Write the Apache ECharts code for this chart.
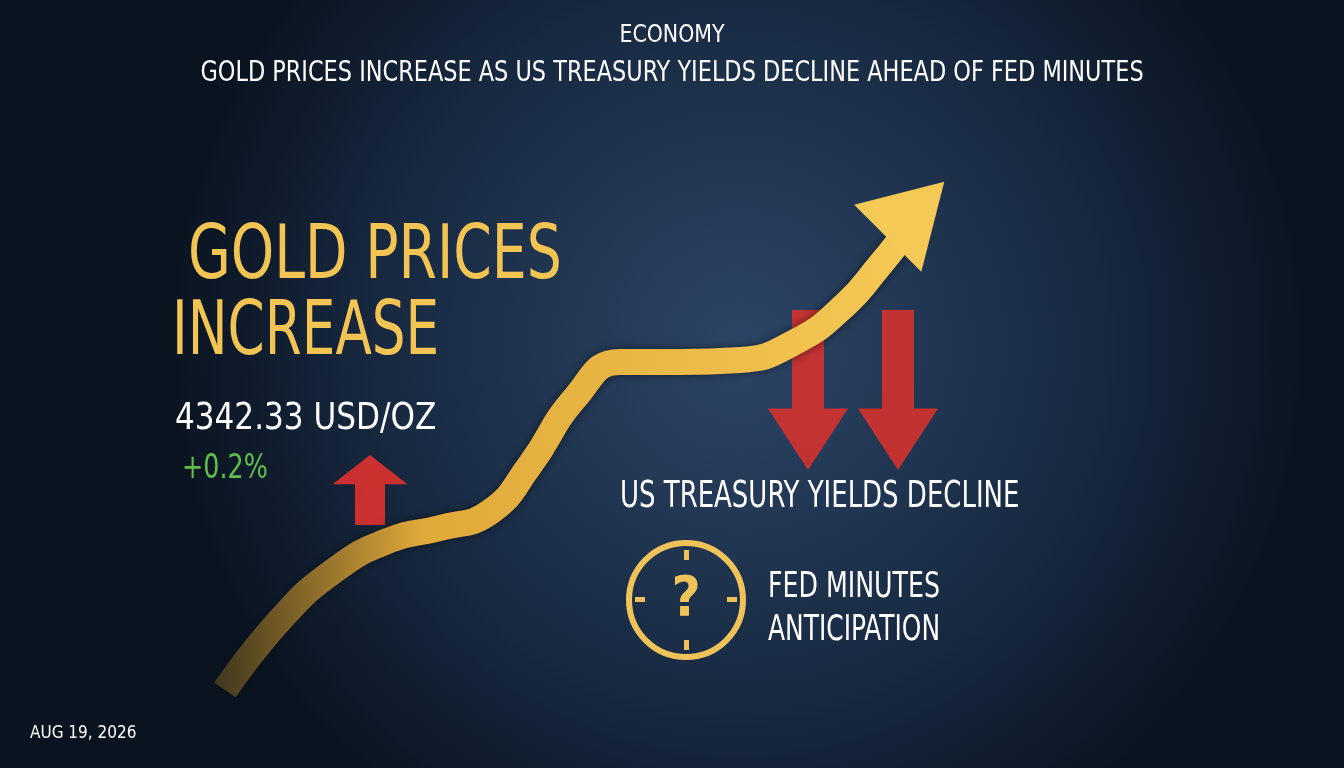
<!DOCTYPE html>
<html><head><meta charset="utf-8">
<script src="https://cdn.jsdelivr.net/npm/echarts@6/dist/echarts.min.js"></script>
<style>html,body{margin:0;padding:0;background:#0d1a2b}#c{width:1344px;height:768px}</style>
</head><body><div id="c"></div>
<script>
const goldPathX = [225, 280, 335, 390, 440, 490, 530, 575, 620, 680, 740, 795, 845, 880, 900];
const goldPathY = [690, 620, 570, 540, 528, 512, 465, 398, 362, 362, 360, 342, 305, 265, 240];
const headPoint = [[916, 210]];
const upArrows = [[370, 490]];
const downArrows = [[808, 390], [898, 390]];
const clockPos = [[686, 600]];
const F = '"DejaVu Sans Condensed","Roboto",sans-serif';
const chart = echarts.init(document.getElementById('c'));
const arrowUp = 'path://M0,0 L10,-10 L20,0 L14,0 L14,14 L6,14 L6,0 Z';
const arrowDown = 'path://M6,0 L14,0 L14,16 L20,16 L10,26 L0,16 L6,16 Z';
function T(text, x, y, size, fill, sx, center){
  return {type:'text', x:x, y:y, scaleX:sx, originX:0, originY:0,
    style:{text:text, fill:fill, font:size+'px '+F, textAlign:center?'center':'left', textVerticalAlign:'top'}};
}
chart.setOption({
  backgroundColor: {type:'radial', x:0.55, y:0.45, r:0.75, colorStops:[{offset:0,color:'#2c4566'},{offset:0.6,color:'#182a42'},{offset:1,color:'#0a1320'}]},
  grid:{left:0,right:0,top:0,bottom:0},
  xAxis:{type:'value',min:0,max:1344,show:false},
  yAxis:{type:'value',min:0,max:768,inverse:true,show:false},
  series:[
    {type:'line',smooth:true,symbol:'none',data:goldPathX.map((x,i)=>[x,goldPathY[i]]),
     lineStyle:{width:26,color:{type:'linear',x:0,y:0,x2:1,y2:0,colorStops:[{offset:0,color:'rgba(220,160,40,0.25)'},{offset:0.3,color:'#e0a93a'},{offset:1,color:'#f5c955'}]},shadowColor:'rgba(0,0,0,0.5)',shadowBlur:10},z:3},
    {type:'scatter',data:headPoint,symbol:'triangle',symbolSize:[95,80],symbolRotate:-45,itemStyle:{color:'#f5c955',opacity:1},z:4},
    {type:'scatter',data:upArrows,symbol:arrowUp,symbolSize:[75,70],itemStyle:{color:'#d4322e',opacity:0.95},z:2},
    {type:'scatter',data:downArrows,symbol:arrowDown,symbolSize:[80,160],itemStyle:{color:'#d4322e',opacity:0.9},z:2},
    {type:'scatter',data:clockPos,symbol:'circle',symbolSize:114,
     itemStyle:{color:'rgba(0,0,0,0)',borderColor:'#f0c35a',borderWidth:6,opacity:1},
     label:{show:true,position:'inside',formatter:'?',color:'#f0c35a',fontSize:56,fontWeight:'bold',fontFamily:F},z:2}
  ],
  graphic:[
    T('ECONOMY',672,24,24,'#fff',0.95,true),
    T('GOLD PRICES INCREASE AS US TREASURY YIELDS DECLINE AHEAD OF FED MINUTES',672,60,28,'#fff',0.89,true),
    T('GOLD PRICES',188,222,74,'#f2c453',0.83),
    T('INCREASE',172,298,74,'#f2c453',0.8),
    T('4342.33 USD/OZ',175,400,38,'#fff',0.91),
    T('+0.2%',182,452,34,'#5ec04a',0.83),
    T('US TREASURY YIELDS DECLINE',620,478,38,'#fff',0.76),
    T('FED MINUTES',768,570,36,'#fff',0.78),
    T('ANTICIPATION',768,613,36,'#fff',0.77),
    T('AUG 19, 2026',30,725,17,'#fff',1),
    {type:'rect',shape:{x:635,y:597,width:10,height:5},style:{fill:'#f0c35a'}},
    {type:'rect',shape:{x:727,y:597,width:10,height:5},style:{fill:'#f0c35a'}},
    {type:'rect',shape:{x:684,y:550,width:5,height:10},style:{fill:'#f0c35a'}},
    {type:'rect',shape:{x:684,y:640,width:5,height:10},style:{fill:'#f0c35a'}}
  ]
});
</script></body></html>
